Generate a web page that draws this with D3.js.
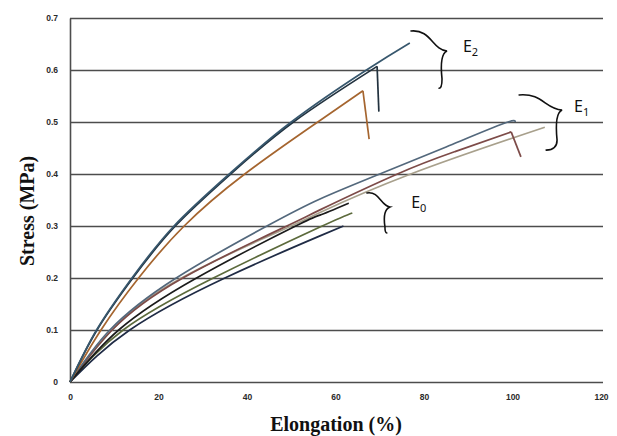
<!DOCTYPE html>
<html>
<head>
<meta charset="utf-8">
<script src="https://cdn.jsdelivr.net/npm/d3@7"></script>
<style>
  body { margin: 0; background: #fff; }
  .tick text { font-family: "Liberation Sans", Arial, sans-serif; font-weight: bold; font-size: 8.5px; fill: #2a2a2a; }
  .title { font-family: "Liberation Serif", "Times New Roman", serif; font-weight: bold; font-size: 20px; fill: #111; }
  .glabel { font-family: "Noto Sans", "Open Sans", sans-serif; font-size: 16px; fill: #111; }
</style>
</head>
<body>
<svg id="chart" width="617" height="436"></svg>
<script>
// curves: [elongation %, stress MPa]
const e2Long  = [[0,0],[6,0.1],[14,0.2],[23.5,0.3],[36,0.4],[50,0.5],[67,0.6],[76.8,0.652]];
const e2Short = [[0,0],[6.1,0.1],[14.2,0.2],[23.8,0.3],[36.3,0.4],[50.5,0.5],[69.4,0.607]];
const e2Brown = [[0,0],[7,0.1],[15.5,0.2],[25.8,0.3],[39.5,0.4],[56,0.5],[66.2,0.56]];
const e1Blue  = [[0,0],[9,0.1],[24,0.2],[44.5,0.3],[56.5,0.352],[70,0.4],[85,0.452],[98,0.497],[100.6,0.5]];
const e1Brown = [[0,0],[9.5,0.1],[25.5,0.2],[49,0.3],[56.5,0.331],[74,0.4],[87,0.443],[99.7,0.481]];
const e1Tan   = [[0,0],[9.5,0.1],[25.2,0.2],[50,0.3],[56.5,0.326],[77,0.4],[107.3,0.49]];
const e0Black = [[0,0],[11,0.1],[28.6,0.2],[51,0.3],[56.5,0.321],[63,0.344]];
const e0Olive = [[0,0],[12,0.1],[32.4,0.2],[56.5,0.298],[63.8,0.325]];
const e0Navy  = [[0,0],[13.5,0.1],[35,0.2],[56.5,0.281],[61.8,0.3]];

// break drops after the peak
const e2ShortDrop = [[69.4,0.607],[69.8,0.52]];
const e2BrownDrop = [[66.2,0.56],[67.6,0.467]];
const e1BrownDrop = [[99.7,0.481],[101.9,0.433]];

const curves = [e1Tan, e1Brown, e1Blue, e0Olive, e0Navy, e0Black, e2Brown, e2Short, e2Long];
const colors = ["#a8a08c", "#7d4b48", "#53687c", "#5c6a3c", "#1f2b45", "#1b1b1b", "#a5652f", "#22323f", "#37576d"];
const drops = [e2ShortDrop, e2BrownDrop, e1BrownDrop];
const dropColors = ["#22323f", "#a5652f", "#7d4b48"];

const xTicks = [0, 20, 40, 60, 80, 100, 120];
const yTicks = [0, 0.1, 0.2, 0.3, 0.4, 0.5, 0.6, 0.7];

// brace annotations in data units: top end, tip, bottom end, label spot
const groupNames = ["2", "1", "0"];
const braceTop = [[77.06,0.675],[101.5,0.552],[67.1,0.3635]];
const braceTip = [[85.2,0.6365],[111.2,0.523],[72.3,0.3365]];
const braceBottom = [[83.4,0.565],[107.6,0.446],[71.6,0.2865]];
const labelAt = [[88.8,0.635],[113.9,0.519],[77.1,0.335]];

const svg = d3.select("#chart");
const margin = { top: 18, right: 16, bottom: 54, left: 70 };
const W = 617 - margin.left - margin.right;
const H = 436 - margin.top - margin.bottom;

const x = d3.scaleLinear().domain([0, 120]).range([margin.left, margin.left + W]);
const y = d3.scaleLinear().domain([0, 0.7]).range([margin.top + H, margin.top]);

// grid + y axis
const yAxis = svg.append("g")
  .attr("transform", `translate(${margin.left},0)`)
  .call(d3.axisLeft(y).tickValues(yTicks).tickFormat(d => d === 0 ? "0" : d3.format(".1f")(d))
    .tickSize(-(W + 2)).tickSizeOuter(0).tickPadding(12));
yAxis.selectAll(".tick line").attr("stroke", "#4d4d4d").attr("stroke-width", 1.4);
yAxis.select(".domain").attr("stroke", "#4d4d4d").attr("stroke-width", 1.6);

const xAxis = svg.append("g")
  .attr("transform", `translate(0,${margin.top + H})`)
  .call(d3.axisBottom(x).tickValues(xTicks).tickSize(0).tickPadding(12));
xAxis.select(".domain").remove();

// curves
const line = d3.line().x(d => x(d[0])).y(d => y(d[1])).curve(d3.curveNatural);
const seg = d3.line().x(d => x(d[0])).y(d => y(d[1]));

svg.append("g").selectAll("path")
  .data(curves)
  .join("path")
  .attr("d", line)
  .attr("fill", "none")
  .attr("stroke", (d, i) => colors[i])
  .attr("stroke-width", 1.7);

svg.append("g").selectAll("path")
  .data(drops)
  .join("path")
  .attr("d", seg)
  .attr("fill", "none")
  .attr("stroke", (d, i) => dropColors[i])
  .attr("stroke-width", 1.7);

// braces
function bracePath(i) {
  const T = [x(braceTop[i][0]), y(braceTop[i][1])];
  const P = [x(braceTip[i][0]), y(braceTip[i][1])];
  const B = [x(braceBottom[i][0]), y(braceBottom[i][1])];
  const w = P[0] - T[0], h = B[1] - P[1];
  return `M${T[0]},${T[1]} C${T[0] + 0.55 * w},${T[1] - 2} ${T[0] + 0.6 * w},${P[1] - 1} ${P[0]},${P[1]}`
    + ` C${P[0] - 7},${P[1] + 3} ${P[0] - 6},${P[1] + 0.5 * h} ${P[0] - 5},${P[1] + 0.75 * h}`
    + ` Q${P[0] - 5},${B[1]} ${B[0]},${B[1]}`;
}

const braces = svg.append("g");
groupNames.forEach((g, i) => {
  braces.append("path")
    .attr("d", bracePath(i))
    .attr("fill", "none")
    .attr("stroke", "#111")
    .attr("stroke-width", 1.6)
    .attr("stroke-linecap", "round");
  const t = braces.append("text")
    .attr("class", "glabel")
    .attr("x", x(labelAt[i][0]))
    .attr("y", y(labelAt[i][1]));
  t.append("tspan").text("E");
  t.append("tspan").attr("font-size", "11px").attr("dy", 4).text(g);
});

// axis titles
svg.append("text")
  .attr("class", "title")
  .attr("text-anchor", "middle")
  .attr("transform", `translate(34,${margin.top + H * 0.53}) rotate(-90)`)
  .text("Stress (MPa)");

svg.append("text")
  .attr("class", "title")
  .attr("text-anchor", "middle")
  .attr("x", 336)
  .attr("y", 431)
  .text("Elongation (%)");
</script>
</body>
</html>
